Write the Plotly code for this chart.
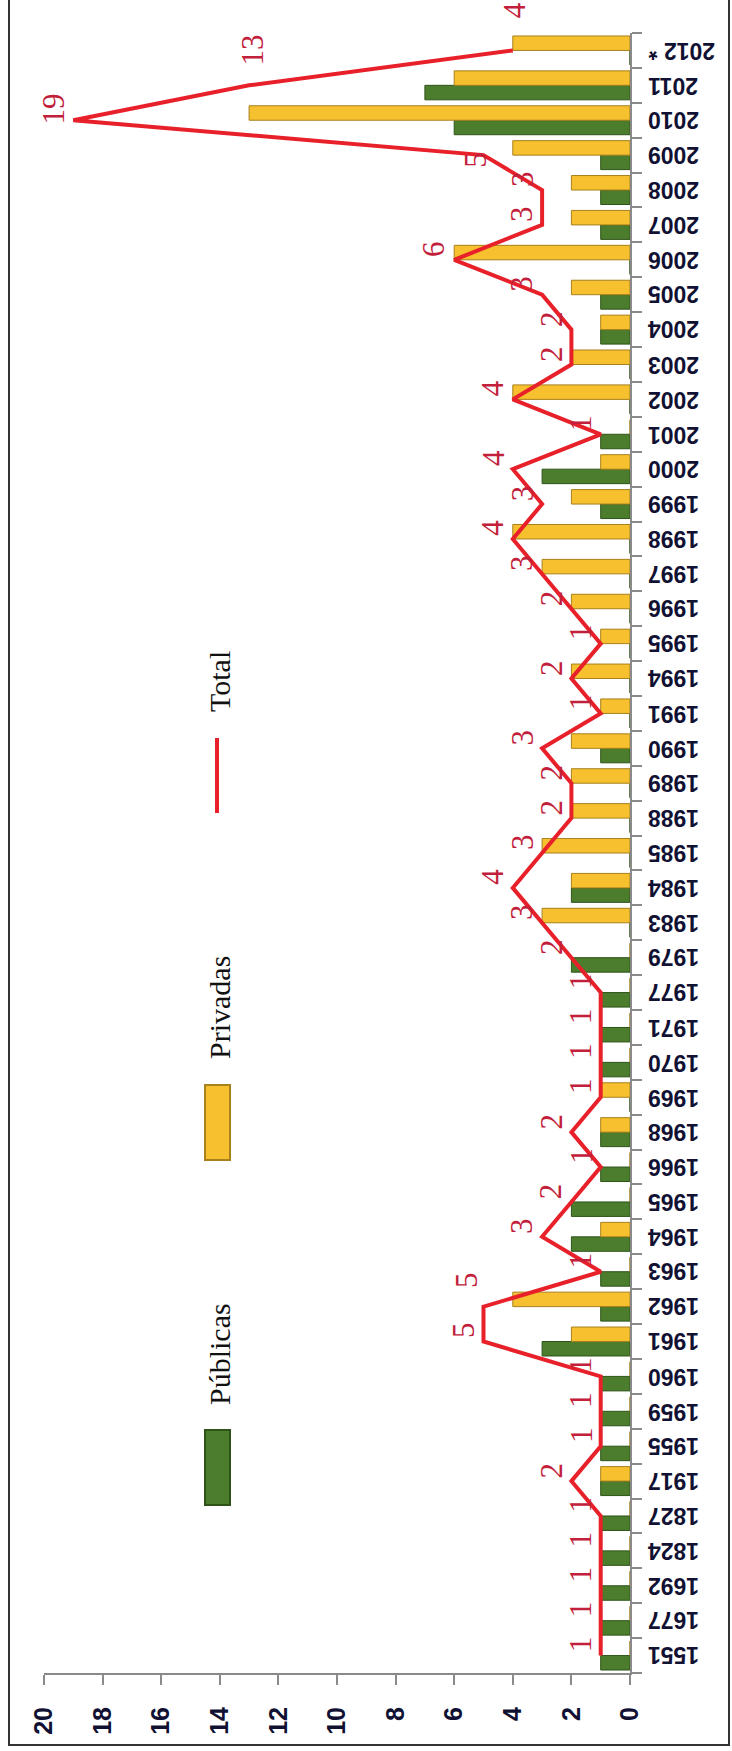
import plotly.graph_objects as go

# ---------------- data (bottom -> top in the rotated picture) ----------------
categories = ["1551", "1677", "1692", "1824", "1827", "1917", "1955", "1959", "1960",
              "1961", "1962", "1963", "1964", "1965", "1966", "1968", "1969", "1970",
              "1971", "1977", "1979", "1983", "1984", "1985", "1988", "1989", "1990",
              "1991", "1994", "1995", "1996", "1997", "1998", "1999", "2000", "2001",
              "2002", "2003", "2004", "2005", "2006", "2007", "2008", "2009", "2010",
              "2011", "2012 *"]
publicas = [1, 1, 1, 1, 1, 1, 1, 1, 1,
            3, 1, 1, 2, 2, 1, 1, 0, 1,
            1, 1, 2, 0, 2, 0, 0, 0, 1,
            0, 0, 0, 0, 0, 0, 1, 3, 1,
            0, 0, 1, 1, 0, 1, 1, 1, 6,
            7, 0]
privadas = [0, 0, 0, 0, 0, 1, 0, 0, 0,
            2, 4, 0, 1, 0, 0, 1, 1, 0,
            0, 0, 0, 3, 2, 3, 2, 2, 2,
            1, 2, 1, 2, 3, 4, 2, 1, 0,
            4, 2, 1, 2, 6, 2, 2, 4, 13,
            6, 4]
total = [1, 1, 1, 1, 1, 2, 1, 1, 1,
         5, 5, 1, 3, 2, 1, 2, 1, 1,
         1, 1, 2, 3, 4, 3, 2, 2, 3,
         1, 2, 1, 2, 3, 4, 3, 4, 1,
         4, 2, 2, 3, 6, 3, 3, 5, 19,
         13, 4]
value_ticks = [0, 2, 4, 6, 8, 10, 12, 14, 16, 18, 20]

# ---------------- geometry helpers (pixels -> paper) ----------------
W, H = 732, 1751
L, R, T, B = 44, 630, 33, 1673


def px_x(x):
    return (x - L) / (R - L)


def px_y(y):
    return (B - y) / (B - T)


GREEN = "#4b7d2d"
GREEN_EDGE = "#2e5419"
YELLOW = "#f6c02e"
YELLOW_EDGE = "#a8801c"
RED = "#e8202a"
LABEL_RED = "#c2203a"

fig = go.Figure()
fig.add_trace(go.Bar(
    x=publicas, y=categories, orientation="h", name="Públicas",
    marker=dict(color=GREEN, line=dict(color=GREEN_EDGE, width=1)),
))
fig.add_trace(go.Bar(
    x=privadas, y=categories, orientation="h", name="Privadas",
    marker=dict(color=YELLOW, line=dict(color=YELLOW_EDGE, width=1)),
))
fig.add_trace(go.Scatter(
    x=total, y=categories, mode="lines", name="Total",
    line=dict(color=RED, width=4), cliponaxis=False,
))

annotations = []

# category labels (upside down, as in the rotated original)
for i, c in enumerate(categories):
    annotations.append(dict(
        x=px_x(646), y=i, xref="paper", yref="y", text=c, showarrow=False,
        textangle=180, xanchor="left", yanchor="middle",
        font=dict(family="Liberation Sans", size=23, color="#111133", weight="bold"),
    ))

# data labels of the Total line
special = {"2011": (3, 35), "2012 *": (2, 40), "1962": (-17, 26), "2009": (-8, -5)}
for i, (c, t) in enumerate(zip(categories, total)):
    dx, dy = special.get(c, (-20, 11))
    annotations.append(dict(
        x=t, y=i, xref="x", yref="y", text=str(t), showarrow=False,
        textangle=-90, xanchor="center", yanchor="middle",
        xshift=dx, yshift=dy,
        font=dict(family="Liberation Serif", size=31, color=LABEL_RED),
    ))

# legend (rotated) drawn by hand
legend_items = [("Total", 682), ("Privadas", 1008), ("Públicas", 1354)]
for text, yc in legend_items:
    annotations.append(dict(
        x=px_x(219), y=px_y(yc), xref="paper", yref="paper", text=text,
        showarrow=False, textangle=-90, xanchor="center", yanchor="middle",
        font=dict(family="Liberation Serif", size=30, color="#111111"),
    ))

shapes = [
    # legend marks
    dict(type="line", xref="paper", yref="paper",
         x0=px_x(217), x1=px_x(217), y0=px_y(738), y1=px_y(813),
         line=dict(color=RED, width=4)),
    dict(type="rect", xref="paper", yref="paper",
         x0=px_x(205), x1=px_x(230), y0=px_y(1085), y1=px_y(1160),
         fillcolor=YELLOW, line=dict(color=YELLOW_EDGE, width=2)),
    dict(type="rect", xref="paper", yref="paper",
         x0=px_x(205), x1=px_x(230), y0=px_y(1430), y1=px_y(1505),
         fillcolor=GREEN, line=dict(color=GREEN_EDGE, width=2)),
    # outer frame
    dict(type="rect", xref="paper", yref="paper",
         x0=px_x(9), x1=px_x(729), y0=px_y(1745), y1=px_y(-5),
         line=dict(color="#333333", width=2), fillcolor="rgba(0,0,0,0)"),
]

fig.update_layout(
    width=W, height=H,
    margin=dict(l=L, r=W - R, t=T, b=H - B, autoexpand=False),
    paper_bgcolor="white", plot_bgcolor="white",
    barmode="group", bargap=0.17, bargroupgap=0.0,
    showlegend=False,
    annotations=annotations, shapes=shapes,
    xaxis=dict(
        range=[20, 0], tickvals=value_ticks, ticktext=[str(v) for v in value_ticks],
        showgrid=False, zeroline=False, showline=True, linecolor="#8a8a8a", linewidth=2,
        ticks="outside", ticklen=10, tickwidth=2, tickcolor="#8a8a8a",
        tickangle=-90, ticklabelstandoff=12,
        tickfont=dict(family="Liberation Sans", size=25, color="#111133", weight="bold"),
        automargin=False, fixedrange=True,
    ),
    yaxis=dict(
        side="right", type="category", categoryorder="array", categoryarray=categories,
        range=[-0.5, len(categories) - 0.5],
        showgrid=False, zeroline=False, showline=True, linecolor="#8a8a8a", linewidth=2,
        ticks="outside", ticklen=10, tickwidth=2, tickcolor="#8a8a8a",
        tickson="boundaries", showticklabels=False,
        automargin=False, fixedrange=True,
    ),
    font=dict(family="Liberation Sans"),
)

fig.write_html("out.html")
